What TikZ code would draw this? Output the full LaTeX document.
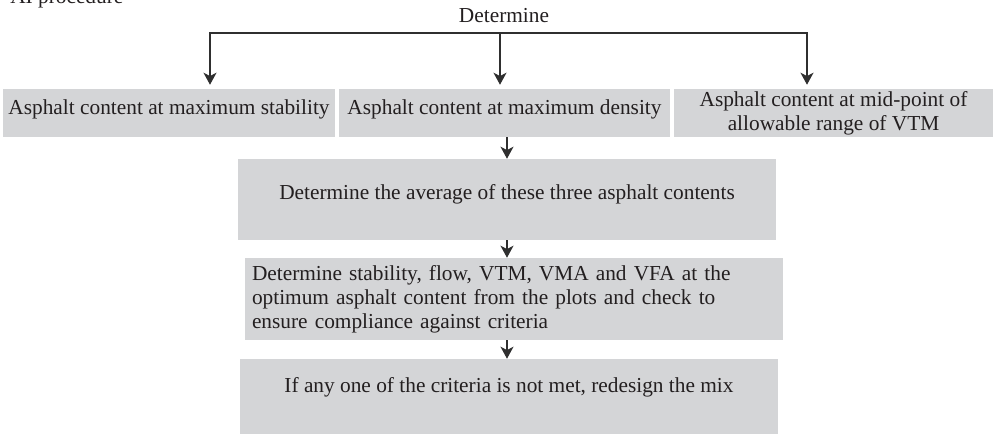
\documentclass[tikz,border=0pt]{standalone}
\usepackage{fontspec}
\setmainfont{Liberation Serif}
\usepackage{tikz}
\usetikzlibrary{arrows.meta,positioning,calc}
\definecolor{boxgray}{HTML}{D4D5D7}
\definecolor{inkgray}{HTML}{2F2F2F}
\definecolor{textgray}{HTML}{231F20}

\begin{document}
\begin{tikzpicture}[
    x=0.75pt, y=-0.75pt,
    >={Stealth[length=9pt,width=9.75pt,inset=2.5pt]},
    stepbox/.style={rectangle, fill=boxgray, inner sep=0pt, text=textgray, font=\fontsize{16}{18}\selectfont},
    plain/.style={inner sep=0pt, text=textgray, font=\fontsize{16}{18}\selectfont},
    conn/.style={draw=inkgray, line width=1.2pt, shorten <=3pt, shorten >=3pt},
    link/.style={draw=inkgray, line width=1.2pt, ->}
]
    \useasboundingbox (0,0) rectangle (993,434);

    \node[plain, anchor=base west] (title) at (10,4) {AI procedure};
    \node[plain, anchor=base] (determine) at (504,23) {Determine};

    \node[stepbox, minimum width=249pt, minimum height=36pt, text height=11pt, text depth=8pt] (stability) at (169,113) {Asphalt content at maximum stability};
    \node[stepbox, minimum width=248.25pt, minimum height=36pt, text height=11pt, text depth=8pt] (density) at (504.5,113) {Asphalt content at maximum density};
    \node[stepbox, minimum width=239.25pt, minimum height=36pt, align=center] (vtm) at (833.5,113) {Asphalt content at mid-point of\\allowable range of VTM};

    \node[stepbox, minimum width=403.5pt, minimum height=60.75pt, text height=11pt, text depth=11pt] (average) at (507,199.5) {Determine the average of these three asphalt contents};
    \node[stepbox, minimum width=403.5pt, minimum height=61.5pt, text width=393pt, inner xsep=5.25pt, align=left] (check) at (514,299) {Determine stability, flow, VTM, VMA and VFA at the\\optimum asphalt content from the plots and check to\\ensure compliance against criteria};
    \node[stepbox, minimum width=403.5pt, minimum height=64.5pt, text height=11pt, text depth=24.5pt] (redesign) at (509,402) {If any one of the criteria is not met, redesign the mix};

    \coordinate (barL) at (210,33);
    \coordinate (barM) at (500,33);
    \coordinate (barR) at (807,33);

    \draw[conn, <->] (barL |- stability.north) -- (barL) -- (barR) -- (barR |- vtm.north);
    \draw[conn, ->, shorten <=0pt] (barM) -- (barM |- density.north);

    \draw[link] (average.north |- density.south) -- (average.north);
    \draw[link] (average.south) -- (average.south |- check.north);
    \draw[link] (average.south |- check.south) -- (average.south |- redesign.north);
\end{tikzpicture}
\end{document}
